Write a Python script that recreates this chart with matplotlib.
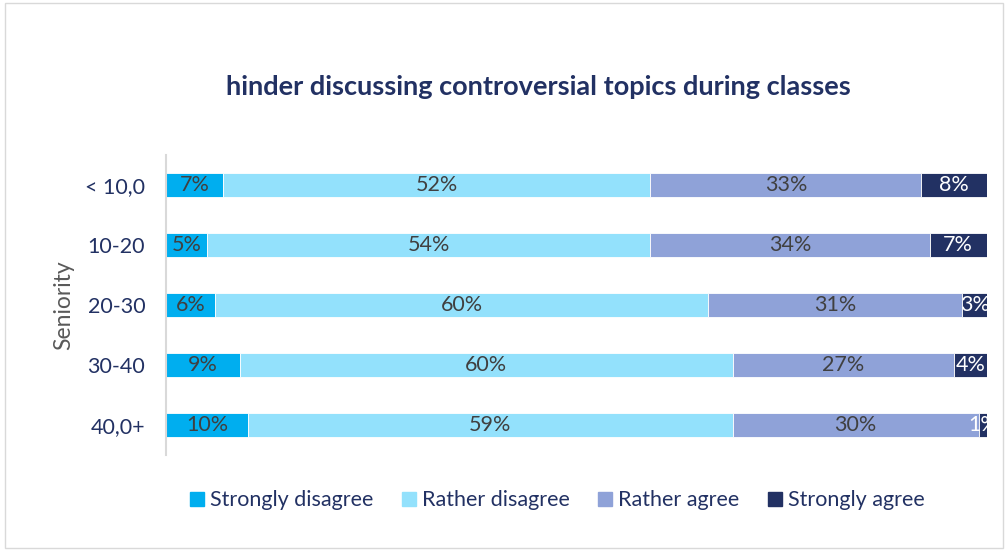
import numpy as np
import matplotlib
matplotlib.use("Agg")
import matplotlib.pyplot as plt
import matplotlib.patches as mpatches

# ---------------------------------------------------------------
# Data
# ---------------------------------------------------------------
categories = ["< 10,0", "10-20", "20-30", "30-40", "40,0+"]
series_names = ["Strongly disagree", "Rather disagree", "Rather agree", "Strongly agree"]
strongly_disagree = [7, 5, 6, 9, 10]
rather_disagree = [52, 54, 60, 60, 59]
rather_agree = [33, 34, 31, 27, 30]
strongly_agree = [8, 7, 3, 4, 1]

colors = ["#00AEEF", "#93E1FC", "#8FA2D8", "#223163"]
label_colors = ["#404040", "#404040", "#404040", "#FFFFFF"]
navy = "#223163"

plt.rcParams["font.family"] = ["Lato", "DejaVu Sans"]

fig = plt.figure(figsize=(10.08, 5.51), dpi=100)
ax = fig.add_axes([0.1647, 0.1742, 0.8145, 0.5445])

# outer frame of the chart area
fig.patches.append(mpatches.Rectangle((0.005, 0.006), 0.99, 0.988, transform=fig.transFigure,
                                      fill=False, edgecolor="#D9D9D9", linewidth=1))

y = np.arange(len(categories))
left = np.zeros(len(categories))
all_series = [strongly_disagree, rather_disagree, rather_agree, strongly_agree]

for vals, name, col, lcol in zip(all_series, series_names, colors, label_colors):
    vals = np.array(vals, dtype=float)
    ax.barh(y, vals, left=left, height=0.4, color=col, edgecolor="white",
            linewidth=0.6, label=name)
    for xi, yi, v in zip(left + vals / 2, y, vals):
        ax.text(xi, yi, f"{int(v)}%", ha="center", va="center", fontsize=15.5, color=lcol)
    left += vals

ax.set_xlim(0, 100)
ax.set_ylim(4.5, -0.5)
ax.set_yticks(y)
ax.set_yticklabels(categories, fontsize=15.5, color=navy)
ax.set_xticks([])
ax.tick_params(axis="y", length=0, pad=15)
for side in ["top", "right", "bottom"]:
    ax.spines[side].set_visible(False)
ax.spines["left"].set_color("#D9D9D9")
ax.spines["left"].set_linewidth(1.5)

ax.set_ylabel("Seniority", fontsize=16.5, color="#595959", labelpad=8)

fig.text(0.534, 0.843, "hinder discussing controversial topics during classes",
         ha="center", va="center", fontsize=19.5, fontweight="bold", color=navy)

handles = [mpatches.Patch(color=c, label=n) for c, n in zip(colors, series_names)]
fig.legend(handles=handles, loc="center", bbox_to_anchor=(0.553, 0.092), ncol=4,
           frameon=False, fontsize=15.5, handlelength=0.65, handleheight=0.65,
           handletextpad=0.3, columnspacing=1.3, labelcolor=navy)

fig.savefig("out.png", dpi=100)
